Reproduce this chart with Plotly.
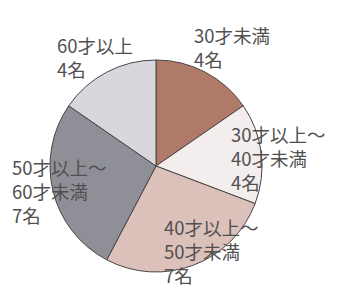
import plotly.graph_objects as go

categories = ["30才未満", "30才以上～40才未満", "40才以上～50才未満", "50才以上～60才未満", "60才以上"]
counts = [4, 4, 7, 7, 4]
label_texts = ["30才未満<br>4名", "30才以上～<br>40才未満<br>4名", "40才以上～<br>50才未満<br>7名",
               "50才以上～<br>60才未満<br>7名", "60才以上<br>4名"]
colors = ["#b07a69", "#f4eded", "#dbc1ba", "#8f9097", "#dad6de"]

W, H = 337, 289
fig = go.Figure(go.Pie(
    labels=categories, values=counts, sort=False, direction="clockwise", rotation=0,
    marker=dict(colors=colors, line=dict(color="#4a4444", width=1)),
    textinfo="none", hoverinfo="label+value", showlegend=False,
    domain=dict(x=[50 / W, 262 / W], y=[1 - 272 / H, 1 - 60 / H]),
))

# label anchor positions (left, top) in pixels
label_pos = [(192, 20), (229, 119), (162, 212), (10, 152), (55, 30)]
for txt, (px, py) in zip(label_texts, label_pos):
    fig.add_annotation(text=txt, xref="paper", yref="paper", x=px / W, y=1 - py / H,
                       xanchor="left", yanchor="top", align="left", showarrow=False,
                       font=dict(family="Noto Sans CJK JP", size=18.5, color="#505050"))

fig.update_layout(width=W, height=H, margin=dict(l=0, r=0, t=0, b=0),
                  paper_bgcolor="white", plot_bgcolor="white")
fig.write_html("out.html", config={"displayModeBar": False},
               post_script="document.body.style.margin='0';")
